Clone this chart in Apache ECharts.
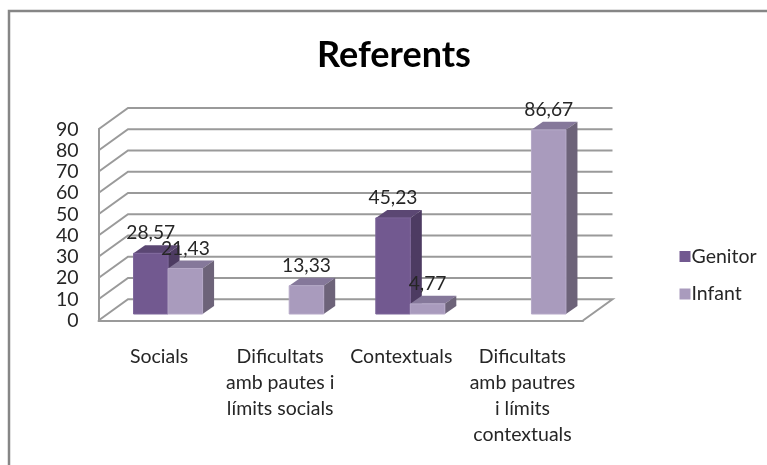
<!DOCTYPE html>
<html>
<head>
<meta charset="utf-8">
<style>html,body{margin:0;padding:0;background:#fff}#c{width:767px;height:465px}</style>
<script src="https://cdn.jsdelivr.net/npm/echarts@6/dist/echarts.min.js"></script>
</head>
<body>
<div id="c"></div>
<script>
const categories = ['Socials', 'Dificultats\namb pautes i\nlímits socials', 'Contextuals', 'Dificultats\namb pautres\ni límits\ncontextuals'];
const genitor = [28.57, null, 45.23, null];
const infant = [21.43, 13.33, 4.77, 86.67];
const gridTicks = [0, 10, 20, 30, 40, 50, 60, 70, 80, 90];

const FONT = 'Lato, Carlito, sans-serif';
const WALL = { dx: 29.5, dy: -21.3 };
const BAR_BASE = { dx: 9, dy: -6.5 };
const BAR_DEPTH = { dx: 11.5, dy: -8 };
const BAR_SHARE = 0.285;

function rows(values) {
  return values.map((v, i) => [i, v]);
}
function barRenderer(sideIndex, faces) {
  return function (params, api) {
    const v = api.value(1);
    if (v == null || isNaN(v)) return;
    const band = api.size([1, 0])[0];
    const w = band * BAR_SHARE;
    const top = api.coord([api.value(0), v]);
    const base = api.coord([api.value(0), 0]);
    const x0 = top[0] + BAR_BASE.dx + (sideIndex - 1) * w;
    const x1 = x0 + w;
    const yT = top[1] + BAR_BASE.dy;
    const yB = base[1] + BAR_BASE.dy;
    const d = BAR_DEPTH;
    return {
      type: 'group',
      children: [
        { type: 'polygon', shape: { points: [[x0, yT], [x1, yT], [x1 + d.dx, yT + d.dy], [x0 + d.dx, yT + d.dy]] }, style: { fill: faces.top } },
        { type: 'polygon', shape: { points: [[x1, yT], [x1 + d.dx, yT + d.dy], [x1 + d.dx, yB + d.dy], [x1, yB]] }, style: { fill: faces.side } },
        { type: 'rect', shape: { x: x0, y: yT, width: w, height: yB - yT }, style: { fill: faces.front, stroke: faces.edge, lineWidth: 1 } },
        { type: 'text', z2: 100, style: { text: String(v).replace('.', ','), x: (x0 + x1) / 2, y: yT - 20, align: 'center', verticalAlign: 'middle', font: '19.2px ' + FONT, fill: '#262626' } }
      ]
    };
  };
}
function wallRenderer(params, api) {
  const cs = params.coordSys;
  const p = api.coord([0, api.value(0)]);
  const y = p[1];
  const L = cs.x, R = cs.x + cs.width;
  const pts = [[L, y], [L + WALL.dx, y + WALL.dy], [R + WALL.dx, y + WALL.dy]];
  if (api.value(0) === 0) pts.push([R, y]);
  return { type: 'polyline', shape: { points: pts }, style: { fill: null, stroke: '#9a9a9a', lineWidth: 2 } };
}
const chart = echarts.init(document.getElementById('c'), null, { renderer: 'canvas' });
chart.setOption({
  animation: false,
  backgroundColor: '#fff',
  title: { text: 'Referents', left: 312, top: 32, textStyle: { fontFamily: FONT, fontWeight: 'bold', fontSize: 36, color: '#000' } },
  legend: {
    data: ['Genitor', 'Infant'], orient: 'vertical', left: 674.5, top: 241.5, itemWidth: 11, itemHeight: 11, itemGap: 17.5, icon: 'rect',
    textStyle: { fontFamily: FONT, fontSize: 19.5, color: '#262626', padding: [0, 0, 0, -4] }
  },
  grid: { left: 98.5, top: 129.3, width: 484.5, height: 191.2, containLabel: false },
  xAxis: {
    type: 'category', data: categories,
    axisLine: { lineStyle: { color: '#9a9a9a', width: 2 } }, axisTick: { show: false },
    axisLabel: { interval: 0, margin: 23, fontFamily: FONT, fontSize: 19.5, lineHeight: 26, color: '#262626' }
  },
  yAxis: {
    type: 'value', min: 0, max: 90, interval: 10,
    splitLine: { show: false }, axisTick: { show: false },
    axisLine: { show: true, lineStyle: { color: '#9a9a9a', width: 2 } },
    axisLabel: { margin: 20, fontFamily: FONT, fontSize: 19.5, color: '#262626' }
  },
  series: [
    { type: 'custom', name: 'wall', z: 1, silent: true, data: gridTicks.map(t => [t]), encode: { y: 0 }, renderItem: wallRenderer },
    { type: 'custom', name: 'Genitor', z: 3, itemStyle: { color: '#725990' }, data: rows(genitor), encode: { x: 0, y: 1 },
      renderItem: barRenderer(0, { front: '#725990', top: '#5b4773', side: '#4d3b62', edge: '#7d669a' }) },
    { type: 'custom', name: 'Infant', z: 4, itemStyle: { color: '#a99bbd' }, data: rows(infant), encode: { x: 0, y: 1 },
      renderItem: barRenderer(1, { front: '#a99bbd', top: '#85789a', side: '#6d6379', edge: '#b5a8c7' }) }
  ],
  graphic: [
    { type: 'polyline', silent: true, z: 0, shape: { points: [[9, 465], [9, 11], [767, 11]] }, style: { fill: null, stroke: '#868686', lineWidth: 2.5 } }
  ]
});
</script>
</body>
</html>
